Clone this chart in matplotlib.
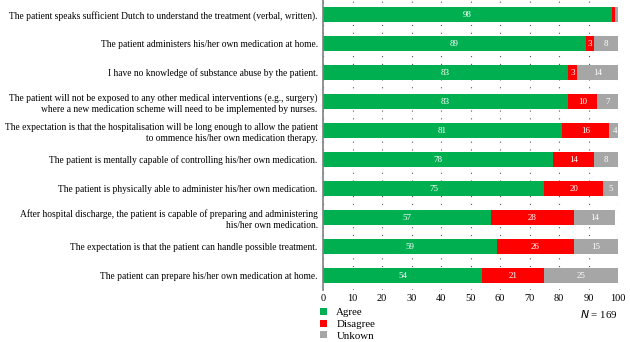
import numpy as np
import matplotlib
matplotlib.use("Agg")
import matplotlib.pyplot as plt
from matplotlib.patches import Patch

# data (top to bottom)
statements = [
    "The patient speaks sufficient Dutch to understand the treatment (verbal, written).",
    "The patient administers his/her own medication at home.",
    "I have no knowledge of substance abuse by the patient.",
    "The patient will not be exposed to any other medical interventions (e.g., surgery)\nwhere a new medication scheme will need to be implemented by nurses.",
    "The expectation is that the hospitalisation will be long enough to allow the patient\nto ommence his/her own medication therapy.",
    "The patient is mentally capable of controlling his/her own medication.",
    "The patient is physically able to administer his/her own medication.",
    "After hospital discharge, the patient is capable of preparing and administering\nhis/her own medication.",
    "The expectation is that the patient can handle possible treatment.",
    "The patient can prepare his/her own medication at home.",
]
agree = [98, 89, 83, 83, 81, 78, 75, 57, 59, 54]
disagree = [1, 3, 3, 10, 16, 14, 20, 28, 26, 21]
unknown = [1, 8, 14, 7, 4, 8, 5, 14, 15, 25]

series = [("Agree", agree, "#00B050"),
          ("Disagree", disagree, "#FF0000"),
          ("Unkown", unknown, "#A6A6A6")]

plt.rcParams["font.family"] = "Liberation Serif"

fig = plt.figure(figsize=(6.3, 3.42), dpi=100)
ax = fig.add_axes([0.513, 0.152, 0.468, 0.848])

y = np.arange(len(statements))
left = np.zeros(len(statements))
for name, vals, col in series:
    vals = np.array(vals, dtype=float)
    ax.barh(y, vals, left=left, height=0.52, color=col, zorder=2)
    for yi, l, v in zip(y, left, vals):
        if v >= 2:
            ax.text(l + v / 2, yi, str(int(v)), ha="center", va="center",
                    color="white", fontsize=6.5, zorder=3)
    left += vals

ax.set_xlim(0, 100)
ax.set_ylim(len(statements) - 0.5, -0.5)
ax.set_yticks(y)
ax.set_yticklabels(statements, fontsize=6.85, linespacing=1.3)
ax.tick_params(axis="y", length=0, pad=4)
ax.set_xticks(range(0, 101, 10))
ax.tick_params(axis="x", length=0, labelsize=7.5, pad=3)
ax.xaxis.grid(True, linestyle=(0, (1, 6)), color="#555555", linewidth=0.8, zorder=0)
ax.set_axisbelow(True)
for s in ["top", "right", "bottom"]:
    ax.spines[s].set_visible(False)
ax.spines["left"].set_color("#808080")
ax.spines["left"].set_linewidth(1.2)

handles = [Patch(facecolor=c, edgecolor="none", label=n) for n, _, c in series]
fig.legend(handles=handles, loc="upper left", bbox_to_anchor=(0.508, 0.099),
           frameon=False, fontsize=7.8, handlelength=0.6, handleheight=0.6,
           labelspacing=0.22, handletextpad=0.9, borderpad=0, borderaxespad=0)
fig.text(0.981, 0.099, r"$N$ = 169", ha="right", va="top", fontsize=7.8)

fig.savefig("out.png", dpi=100)
